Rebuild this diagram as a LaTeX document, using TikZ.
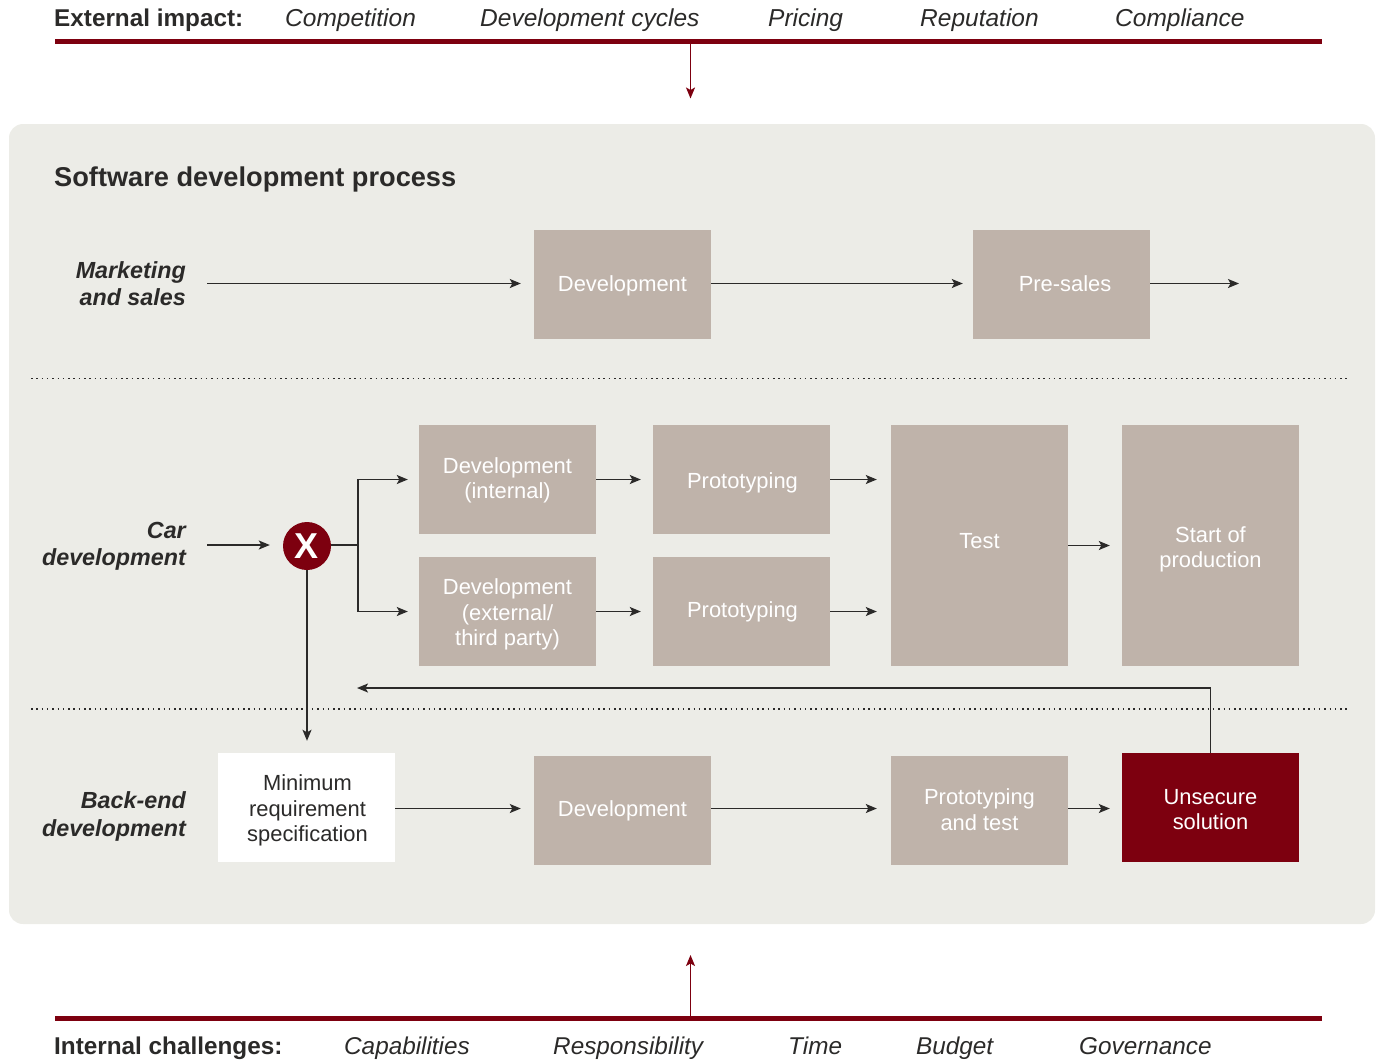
\documentclass[tikz,border=0pt]{standalone}
\usepackage{fontspec}
\setmainfont{Liberation Sans}
\usetikzlibrary{arrows.meta}

\definecolor{panelgrey}{HTML}{ECECE7}
\definecolor{boxtaupe}{HTML}{BFB3AA}
\definecolor{darkred}{HTML}{7D000F}
\definecolor{inkdark}{HTML}{2B2A29}

\tikzset{
    >={Stealth[length=11pt,width=9pt,inset=2.5pt]},
    taupebox/.style={fill=boxtaupe,inner sep=0pt,
        minimum width=177pt,minimum height=109pt},
    tallbox/.style={taupebox,minimum height=241pt},
    boxtext/.style={text=white,inner sep=0pt,align=center,
        font=\fontsize{21.9}{25.5}\selectfont},
    flow/.style={->,line width=1.4pt,draw=inkdark},
    redflow/.style={->,line width=1.4pt,draw=darkred},
    rowlabel/.style={anchor=east,align=right,inner sep=0pt,text=inkdark,
        font=\fontsize{23.3}{27.5}\selectfont\bfseries\itshape},
    headlabel/.style={anchor=base west,inner sep=0pt,text=inkdark,
        font=\fontsize{24.3}{27}\selectfont\bfseries},
    itemlabel/.style={anchor=base west,inner sep=0pt,text=inkdark,
        font=\fontsize{24.5}{27}\selectfont\itshape},
    redbar/.style={draw=darkred,line width=5pt},
    divider/.style={draw=inkdark,line width=1.5pt,dash pattern=on 1.5pt off 3.8pt},
}

\begin{document}
\begin{tikzpicture}[x=1pt,y=-1pt]
    \useasboundingbox (0,0) rectangle (1380,1061);

    % Grey panel
    \fill[panelgrey,rounded corners=14pt] (9,124) rectangle (1375,924);
    \node[headlabel,font=\fontsize{27.2}{30}\selectfont\bfseries] (title) at (54,186) {Software development process};

    % External impact bar
    \node[headlabel] (external) at (54,26) {External impact:};
    \foreach \name/\x/\word in {competition/285/Competition,cycles/480/Development cycles,
        pricing/768/Pricing,reputation/920/Reputation,compliance/1115/Compliance} {
        \node[itemlabel] (\name) at (\x,26) {\word};
    }
    \coordinate (topleft) at (55,41.5);
    \coordinate (topright) at (1321.5,41.5);
    \coordinate (topmid) at (690.5,41.5);
    \coordinate (toptip) at (690.5,98.5);
    \draw[redbar] (topleft) -- (topright);
    \draw[redflow] (topmid) -- (toptip);

    % Internal challenges bar
    \node[headlabel] (internal) at (54,1054) {Internal challenges:};
    \foreach \name/\x/\word in {capabilities/344/Capabilities,responsibility/553/Responsibility,
        time/788/Time,budget/916/Budget,governance/1079/Governance} {
        \node[itemlabel,font=\fontsize{24.3}{27}\selectfont\itshape] (\name) at (\x,1054) {\word};
    }
    \coordinate (botleft) at (55,1018.5);
    \coordinate (botright) at (1321.5,1018.5);
    \coordinate (botmid) at (690.5,1018.5);
    \coordinate (bottip) at (690.5,955);
    \draw[redbar] (botleft) -- (botright);
    \draw[redflow] (botmid) -- (bottip);

    % Dotted dividers
    \coordinate (divAleft) at (31,378.5);
    \coordinate (divAright) at (1349.5,378.5);
    \coordinate (divBleft) at (31,709);
    \coordinate (divBright) at (1349.5,709);
    \draw[divider] (divAleft) -- (divAright);
    \draw[divider] (divBleft) -- (divBright);

    % Row labels
    \node[rowlabel] (marketing) at (186,283.5) {Marketing\\and sales};
    \node[rowlabel] (car) at (186,546.5) {Car\\development};
    \node[rowlabel] (backend) at (186,816.5) {Back-end\\development};

    % Marketing and sales
    \node[taupebox,label={[boxtext,yshift=-1pt]center:Development}] (devmarket) at (622.5,284.5) {};
    \node[taupebox,label={[boxtext,xshift=3.5pt,yshift=1pt]center:Pre-sales}] (presales) at (1061.5,284.5) {};
    \coordinate (marketstart) at (207,283.5);
    \coordinate (marketend) at (1239,283.5);
    \draw[flow,shorten >=13pt] (marketstart) -- (devmarket.west |- marketstart);
    \draw[flow,shorten >=10pt] (devmarket.east |- marketstart) -- (presales.west |- marketstart);
    \draw[flow] (presales.east |- marketstart) -- (marketend);

    % Car development
    \node[circle,fill=darkred,text=white,minimum size=48pt,inner sep=0pt,
        font=\fontsize{36}{36}\selectfont\bfseries] (xgate) at (307,546) {X};
    \node[taupebox,label={[boxtext,yshift=-1pt]center:{Development\\(internal)}}] (devint) at (507.5,479.5) {};
    \node[taupebox,label={[boxtext,yshift=-3pt]center:{Development\\(external/\\third party)}}] (devext) at (507.5,611.5) {};
    \node[taupebox,label={[boxtext,xshift=1pt,yshift=-3pt]center:Prototyping}] (protoint) at (741.5,479.5) {};
    \node[taupebox,label={[boxtext,xshift=1pt]center:Prototyping}] (protoext) at (741.5,611.5) {};
    \node[tallbox,label={[boxtext,yshift=4pt]center:Test}] (test) at (979.5,545.5) {};
    \node[tallbox,label={[boxtext,yshift=-4pt]center:{Start of\\production}}] (sop) at (1210.5,545.5) {};
    \coordinate (carstart) at (207,545);
    \coordinate (branch) at (358,545);
    \draw[flow,shorten >=13pt] (carstart) -- (xgate.west |- carstart);
    \draw[line width=1.4pt,draw=inkdark] (xgate.east |- branch) -- (branch);
    \draw[flow,shorten >=11pt] (branch) |- (devint.west);
    \draw[flow,shorten >=11pt] (branch) |- (devext.west);
    \draw[flow,shorten >=12pt] (devint) -- (protoint);
    \draw[flow,shorten >=12pt] (devext) -- (protoext);
    \draw[flow,shorten >=14pt] (protoint.east) -- (protoint.east -| test.west);
    \draw[flow,shorten >=14pt] (protoext.east) -- (protoext.east -| test.west);
    \draw[flow,shorten >=12pt] (test) -- (sop);

    % Back-end development
    \node[taupebox,fill=white,label={[boxtext,text=inkdark,yshift=-3pt,xshift=1pt]center:{Minimum\\requirement\\specification}}] (minspec) at (306.5,807.5) {};
    \node[taupebox,label={[boxtext]center:Development}] (devback) at (622.5,810.5) {};
    \node[taupebox,label={[boxtext,yshift=1pt]center:{Prototyping\\and test}}] (prototest) at (979.5,810.5) {};
    \node[taupebox,fill=darkred,label={[boxtext,yshift=-2pt]center:{Unsecure\\solution}}] (unsecure) at (1210.5,807.5) {};
    \coordinate (backrow) at (207,808.5);
    \coordinate (loopend) at (357,688);
    \draw[flow,shorten >=12pt] (xgate.south) -- (xgate.south |- minspec.north);
    \draw[flow,shorten >=13pt] (minspec.east |- backrow) -- (devback.west |- backrow);
    \draw[flow,shorten >=14pt] (devback.east |- backrow) -- (prototest.west |- backrow);
    \draw[flow,shorten >=12pt] (prototest.east |- backrow) -- (unsecure.west |- backrow);
    \draw[flow] (unsecure.north) |- (loopend);
\end{tikzpicture}
\end{document}
